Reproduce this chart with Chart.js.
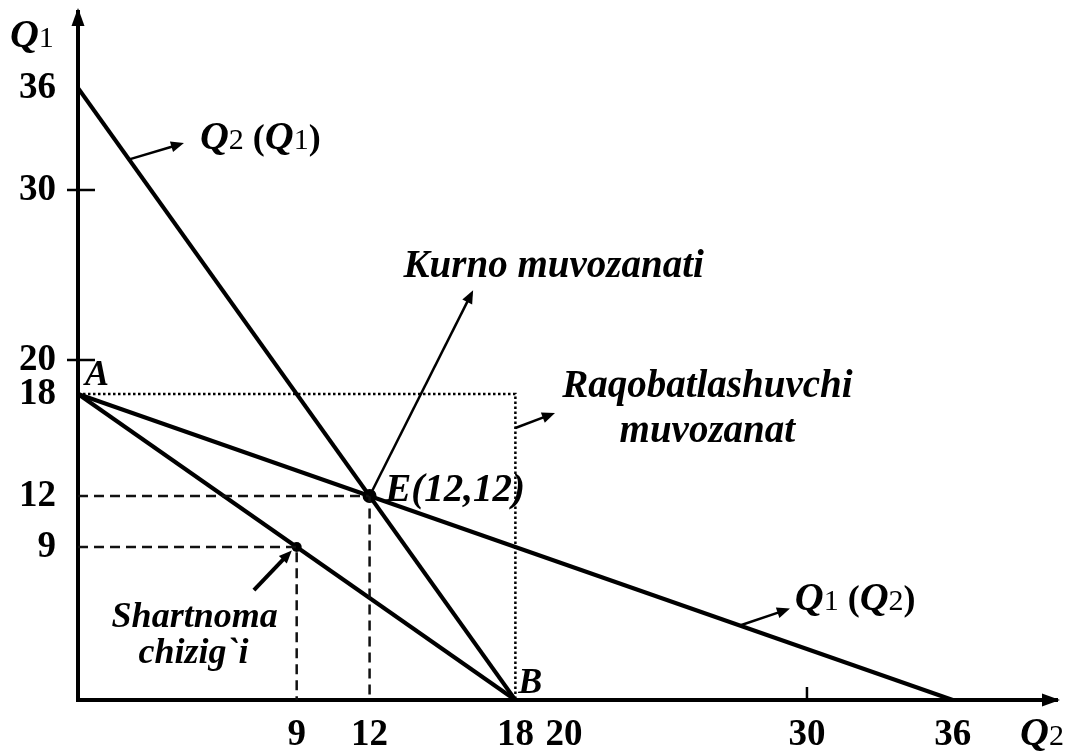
<!DOCTYPE html>
<html><head><meta charset="utf-8">
<script src="https://cdn.jsdelivr.net/npm/chart.js@4.4.1/dist/chart.umd.min.js"></script>
<style>html,body{margin:0;padding:0;background:#fff}#wrap{width:1071px;height:751px}</style>
</head><body><div id="wrap"><canvas id="c" width="1071" height="751"></canvas></div>
<script>
// ---- data ----
const tickValuesX = [9, 12, 18, 20, 30, 36];
const tickValuesY = [9, 12, 18, 20, 30, 36];
const tickMarksX = [30];
const tickMarksY = [20, 30];
const reactionQ2 = [{x: 0, y: 36}, {x: 18, y: 0}];      // Q2(Q1)
const reactionQ1 = [{x: 0, y: 18}, {x: 36, y: 0}];      // Q1(Q2)
const contractLine = [{x: 0, y: 18}, {x: 18, y: 0}];    // Shartnoma chizig`i
const competitiveBox = [{x: 0, y: 18}, {x: 18, y: 18}, {x: 18, y: 0}];
const cournotGuide = [{x: 0, y: 12}, {x: 12, y: 12}, {x: 12, y: 0}];
const contractGuide = [{x: 0, y: 9}, {x: 9, y: 9}, {x: 9, y: 0}];
const cournotPoint = [{x: 12, y: 12}];
const contractPoint = [{x: 9, y: 9}];

const SERIF = "'Liberation Serif', 'Times New Roman', serif";
const BI = (s) => `italic bold ${s}px ${SERIF}`;
const B = (s) => `bold ${s}px ${SERIF}`;
const R = (s) => `${s}px ${SERIF}`;

// text annotations (data coordinates)
const texts = [
  {x: 0.29, y: 18.55, align: 'left', parts: [['A', BI(36)]]},
  {x: 18.12, y: 0.41, align: 'left', parts: [['B', BI(36)]]},
  {x: 12.64, y: 11.7, align: 'left', parts: [['E(12,12)', BI(39)]]},
  {x: 13.4, y: 24.9, align: 'left', parts: [['Kurno muvozanati', BI(39)]]},
  {x: 25.9, y: 17.8, align: 'center', parts: [['Raqobatlashuvchi', BI(39)]]},
  {x: 25.9, y: 15.2, align: 'center', parts: [['muvozanat', BI(39)]]},
  {x: 4.8, y: 4.3, align: 'center', parts: [['Shartnoma', BI(36)]]},
  {x: 4.75, y: 2.2, align: 'center', parts: [['chizig`i', BI(36)]]},
  {x: 5.02, y: 32.4, align: 'left', parts: [['Q', BI(40)], ['2', R(30)], [' (', B(36)], ['Q', BI(40)], ['1', R(30)], [')', B(36)]]},
  {x: 29.5, y: 5.3, align: 'left', parts: [['Q', BI(40)], ['1', R(30)], [' (', B(36)], ['Q', BI(40)], ['2', R(30)], [')', B(36)]]},
  {x: -2.8, y: 38.4, align: 'left', parts: [['Q', BI(40)], ['1', R(30)]]},
  {x: 38.77, y: -2.65, align: 'left', parts: [['Q', BI(40)], ['2', R(30)]]}
];
// arrows (data coordinates): from -> to
const arrows = [
  {x1: 2.11, y1: 31.8, x2: 4.36, y2: 32.76, w: 2.5},
  {x1: 12, y1: 12, x2: 16.26, y2: 24.1, w: 2.5},
  {x1: 18, y1: 16.0, x2: 19.63, y2: 16.88, w: 2.5},
  {x1: 27.24, y1: 4.38, x2: 29.3, y2: 5.38, w: 2.5},
  {x1: 7.24, y1: 6.47, x2: 8.8, y2: 8.8, w: 4}
];

function drawArrow(ctx, x1, y1, x2, y2, w) {
  const ang = Math.atan2(y2 - y1, x2 - x1);
  const hl = 13, hw = 5.5;
  const bx = x2 - Math.cos(ang) * hl, by = y2 - Math.sin(ang) * hl;
  ctx.lineWidth = w;
  ctx.beginPath(); ctx.moveTo(x1, y1); ctx.lineTo(bx + Math.cos(ang) * 2, by + Math.sin(ang) * 2); ctx.stroke();
  ctx.beginPath();
  ctx.moveTo(x2, y2);
  ctx.lineTo(bx - Math.sin(ang) * hw, by + Math.cos(ang) * hw);
  ctx.lineTo(bx + Math.sin(ang) * hw, by - Math.cos(ang) * hw);
  ctx.closePath(); ctx.fill();
}

const annotPlugin = {
  id: 'annot',
  afterDraw(chart) {
    const {ctx, chartArea: ca, scales: {x, y}} = chart;
    const px = v => x.getPixelForValue(v), py = v => y.getPixelForValue(v);
    ctx.save();
    ctx.fillStyle = '#000'; ctx.strokeStyle = '#000';
    // axis arrowheads
    ctx.beginPath();
    ctx.moveTo(ca.left, ca.top - 4); ctx.lineTo(ca.left - 6.5, ca.top + 14); ctx.lineTo(ca.left + 6.5, ca.top + 14);
    ctx.closePath(); ctx.fill();
    ctx.beginPath();
    ctx.moveTo(ca.right + 3, ca.bottom); ctx.lineTo(ca.right - 15, ca.bottom - 6.5); ctx.lineTo(ca.right - 15, ca.bottom + 6.5);
    ctx.closePath(); ctx.fill();
    // tick marks
    ctx.lineWidth = 2.5;
    tickMarksY.forEach(v => { ctx.beginPath(); ctx.moveTo(ca.left - 11, py(v)); ctx.lineTo(ca.left + 17, py(v)); ctx.stroke(); });
    tickMarksX.forEach(v => { ctx.beginPath(); ctx.moveTo(px(v), ca.bottom); ctx.lineTo(px(v), ca.bottom - 13); ctx.stroke(); });
    // arrows
    arrows.forEach(a => drawArrow(ctx, px(a.x1), py(a.y1), px(a.x2), py(a.y2), a.w));
    // texts
    ctx.textBaseline = 'alphabetic';
    texts.forEach(t => {
      let total = 0;
      t.parts.forEach(p => { ctx.font = p[1]; total += ctx.measureText(p[0]).width; });
      let cx = px(t.x);
      if (t.align === 'center') cx -= total / 2;
      const cy = py(t.y);
      t.parts.forEach(p => {
        ctx.font = p[1]; ctx.textAlign = 'left';
        ctx.fillText(p[0], cx, cy);
        cx += ctx.measureText(p[0]).width;
      });
    });
    ctx.restore();
  }
};

const lineDs = (data, opts) => Object.assign({
  data, showLine: true, pointRadius: 0, borderColor: '#000', backgroundColor: '#000',
  borderWidth: 4, fill: false, clip: false, tension: 0
}, opts);

new Chart(document.getElementById('c'), {
  type: 'scatter',
  data: {
    datasets: [
      lineDs(competitiveBox, {borderWidth: 2.5, borderDash: [2.5, 2.5], borderColor: '#000'}),
      lineDs(cournotGuide, {borderWidth: 2.5, borderDash: [10, 6], borderColor: '#111'}),
      lineDs(contractGuide, {borderWidth: 2.5, borderDash: [10, 6], borderColor: '#111'}),
      lineDs(reactionQ2, {}),
      lineDs(reactionQ1, {}),
      lineDs(contractLine, {}),
      {data: cournotPoint, pointRadius: 7, pointBackgroundColor: '#000', pointBorderWidth: 0, showLine: false, clip: false},
      {data: contractPoint, pointRadius: 5, pointBackgroundColor: '#000', pointBorderWidth: 0, showLine: false, clip: false}
    ]
  },
  options: {
    responsive: false,
    animation: false,
    events: [],
    layout: {padding: {top: 12, right: 14, left: 0, bottom: 0}},
    plugins: {legend: {display: false}, tooltip: {enabled: false}},
    scales: {
      x: {
        type: 'linear', min: 0, max: 40.29,
        afterBuildTicks: s => { s.ticks = tickValuesX.map(v => ({value: v})); },
        afterFit: s => { s.height = 51; s.paddingLeft = 0; s.paddingRight = 0; },
        grid: {display: false, drawTicks: false},
        border: {display: true, color: '#000', width: 4},
        ticks: {autoSkip: false, maxRotation: 0, padding: 13, color: '#000', font: {family: SERIF, size: 37, weight: 'bold'}}
      },
      y: {
        type: 'linear', min: 0, max: 40.47,
        afterBuildTicks: s => { s.ticks = tickValuesY.map(v => ({value: v})); },
        afterFit: s => { s.width = 78; s.paddingTop = 0; s.paddingBottom = 0; },
        grid: {display: false, drawTicks: false},
        border: {display: true, color: '#000', width: 4},
        ticks: {autoSkip: false, padding: 22, color: '#000', font: {family: SERIF, size: 37, weight: 'bold'}}
      }
    }
  },
  plugins: [annotPlugin]
});
</script>
</body></html>
